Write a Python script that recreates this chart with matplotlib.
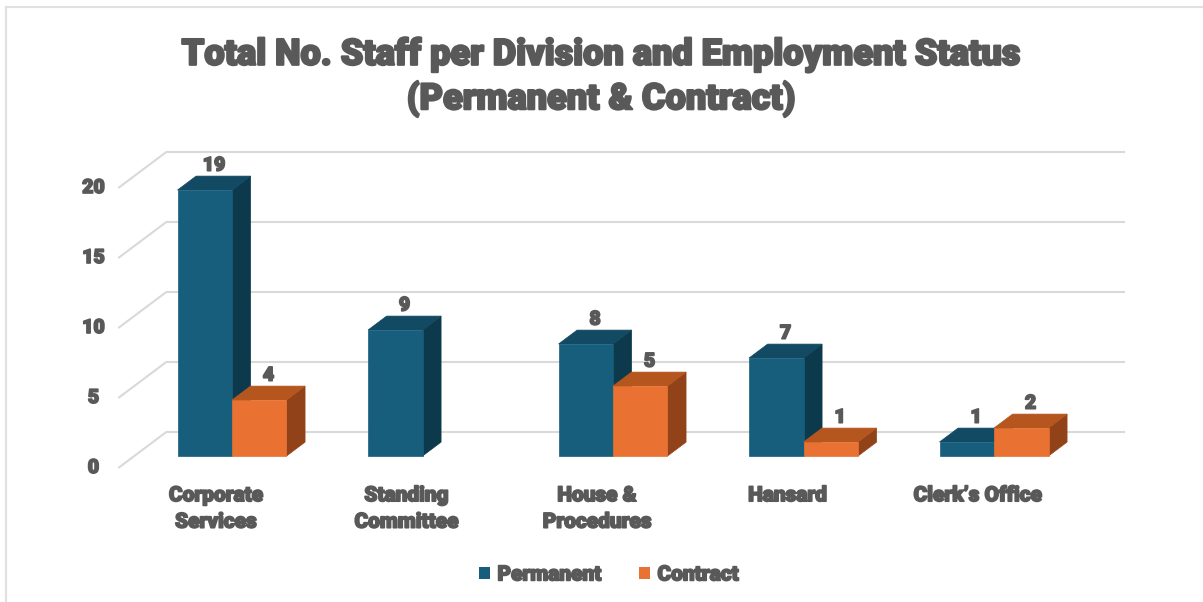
import matplotlib.pyplot as plt
import matplotlib.patheffects as pe
from matplotlib.patches import Polygon, Patch
from matplotlib.lines import Line2D

# Staff numbers per division
divisions = ["Corporate\nServices", "Standing\nCommittee", "House &\nProcedures",
             "Hansard", "Clerk\u2019s Office"]
permanent = [19, 9, 8, 7, 1]
contract = [4, 0, 5, 1, 2]
yticks = [0, 5, 10, 15, 20]

TXT = "#595959"
GRID = "#d9d9d9"
FONT = "Roboto"
HEAVY = [pe.withStroke(linewidth=1.2, foreground=TXT)]
colors = {
    "Permanent": ("#175e7d", "#124a63", "#0c3a4c"),   # front, top, side
    "Contract": ("#e97132", "#b5561f", "#924218"),
}

# pseudo-3D layout, x in category units, y in data units
DX, DY = 0.252, 2.571      # offset of full depth (floor front -> back wall)
Z0, Z1 = 1 / 3, 0.72       # bar depth range
W = 0.286                  # bar width

fig = plt.figure(figsize=(12.03, 6.02), dpi=100)
ax = fig.add_axes([0, 0, 1, 1])
ax.set_xlim(-1.1339, 5.181)
ax.set_ylim(-9.571, 33.43)
ax.axis("off")


def proj(x, y, z):
    return (x + z * DX, y + z * DY)


def label(x, y, s, size, **kw):
    return ax.text(x, y, s, fontsize=size, color=TXT, family=FONT,
                   fontweight="black", path_effects=HEAVY, **kw)


# back wall gridlines and left-side diagonals
x_left = -0.5131
x_right = 4.772
for v in yticks:
    bx, by = proj(x_left, v, 1)
    ax.plot([x_left, bx], [v, by], color=GRID, lw=1.5, zorder=1,
            solid_capstyle="butt")
    ax.plot([bx, x_right], [by, by], color=GRID, lw=1.5, zorder=1,
            solid_capstyle="butt")
    label(x_left - 0.13, v, str(v), 14, ha="center", va="center")


def bar3d(x0, h, front, top, side):
    if h <= 0:
        return
    p = [proj(x0, 0, Z0), proj(x0 + W, 0, Z0), proj(x0 + W, h, Z0), proj(x0, h, Z0)]
    t = [proj(x0, h, Z0), proj(x0 + W, h, Z0), proj(x0 + W, h, Z1), proj(x0, h, Z1)]
    s = [proj(x0 + W, 0, Z0), proj(x0 + W, 0, Z1), proj(x0 + W, h, Z1), proj(x0 + W, h, Z0)]
    for poly, c in ((s, side), (t, top), (p, front)):
        ax.add_patch(Polygon(poly, closed=True, facecolor=c, edgecolor=c,
                             lw=0.5, zorder=3))
    lx, ly = proj(x0 + W / 2, h, Z1)
    label(lx - DX * (Z1 - Z0) * 0.5, ly + 0.1, str(h), 14,
          ha="center", va="bottom", zorder=4)


for i, name in enumerate(divisions):
    bar3d(i - W, permanent[i], *colors["Permanent"])
    bar3d(i, contract[i], *colors["Contract"])
    label(i, -1.3, name, 15, ha="center", va="top", linespacing=1.5)

fig.text(0.5, 0.872, "Total No. Staff per Division and Employment Status\n"
         "(Permanent & Contract)", ha="center", va="center", fontsize=26,
         color=TXT, family=FONT, fontweight="black", linespacing=1.25,
         path_effects=[pe.withStroke(linewidth=1.6, foreground=TXT)])

handles = [Patch(facecolor=colors[k][0], edgecolor="none", label=k) for k in colors]
leg = fig.legend(handles=handles, loc="center", bbox_to_anchor=(0.506, 0.045),
                 ncol=2, frameon=False, handlelength=0.55, handleheight=0.55,
                 handletextpad=0.35, columnspacing=1.8,
                 prop={"family": FONT, "weight": "black", "size": 15})
for t in leg.get_texts():
    t.set_color(TXT)
    t.set_path_effects(HEAVY)

# chart area border
fig.add_artist(Line2D([6 / 1203, 6 / 1203], [0, 1 - 7 / 602], color="#e0e0e0",
                      lw=1.5, transform=fig.transFigure))
fig.add_artist(Line2D([6 / 1203, 1], [1 - 7 / 602, 1 - 7 / 602], color="#e0e0e0",
                      lw=1.5, transform=fig.transFigure))

fig.savefig("out.png", dpi=100)
